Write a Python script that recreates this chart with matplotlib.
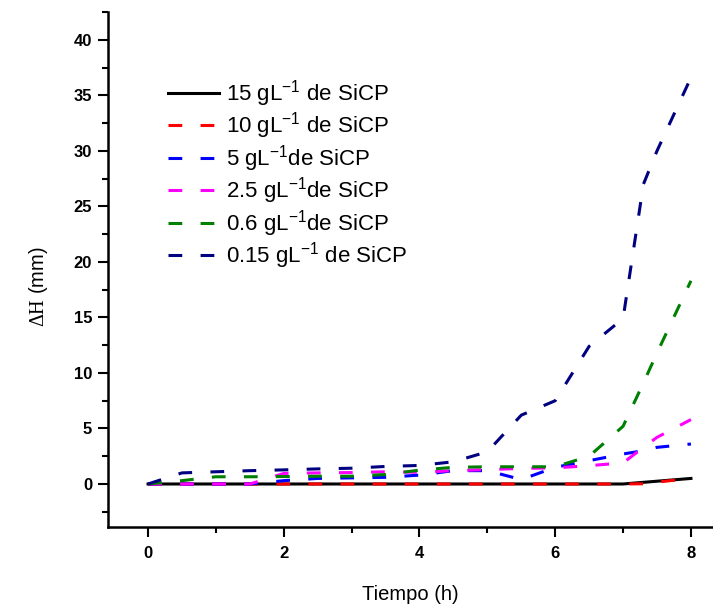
import matplotlib
matplotlib.use("Agg")
import matplotlib.pyplot as plt
from matplotlib.ticker import MultipleLocator

plt.rcParams['font.family'] = ['Liberation Sans', 'DejaVu Sans']
plt.rcParams['mathtext.fontset'] = 'custom'
plt.rcParams['mathtext.rm'] = 'Liberation Serif'
plt.rcParams['mathtext.sf'] = 'Liberation Sans'

# time (h)
tiempo = [0, 0.5, 1, 1.5, 2, 2.5, 3, 3.5, 4, 4.5, 5, 5.5, 6, 6.5, 7, 7.3, 7.5, 8]

# Delta H (mm) for each SiCP concentration
dh_15 = [0, 0, 0, 0, 0, 0, 0, 0, 0, 0, 0, 0, 0, 0, 0, 0.15, 0.25, 0.5]
dh_10 = [0, 0, 0, 0, 0, 0, 0, 0, 0, 0, 0, 0, 0, 0, 0, 0.02, 0.17, 0.5]
dh_5 = [0, 0, 0, 0, 0.3, 0.5, 0.55, 0.6, 0.8, 1.2, 1.2, 0.4, 1.5, 2.1, 2.7, 3.0, 3.3, 3.6]
dh_2_5 = [0, 0, 0, 0, 0.95, 1.0, 1.03, 1.1, 1.05, 1.2, 1.3, 1.4, 1.45, 1.65, 1.9, 3.3, 4.2, 5.8]
dh_0_6 = [0, 0.3, 0.65, 0.65, 0.67, 0.7, 0.7, 0.85, 1.25, 1.5, 1.55, 1.55, 1.55, 2.5, 5.2, 9.1, 11.8, 18.3]
dh_0_15 = [0, 1.0, 1.1, 1.2, 1.27, 1.36, 1.42, 1.58, 1.67, 2.0, 2.9, 6.2, 7.5, 12.4, 14.9, 27.0, 30.0, 36.6]

sup = '$^{\\mathsf{-1}}$'
series = [
    (dh_15, 'black', '15 gL' + sup + ' de SiCP', '-'),
    (dh_10, '#ff0000', '10 gL' + sup + ' de SiCP', '--'),
    (dh_5, '#0000ff', '5 gL' + sup + 'de SiCP', '--'),
    (dh_2_5, '#ff00ff', '2.5 gL' + sup + 'de SiCP', '--'),
    (dh_0_6, '#008000', '0.6 gL' + sup + 'de SiCP', '--'),
    (dh_0_15, '#000080', '0.15 gL' + sup + ' de SiCP', '--'),
]

fig = plt.figure(figsize=(7.13, 6.05), dpi=100)
ax = fig.add_axes([0.1515, 0.129, 0.848, 0.851])

for vals, col, lab, ls in series:
    if ls == '-':
        ax.plot(tiempo, vals, color=col, lw=2.2, label=lab)
    else:
        ax.plot(tiempo, vals, color=col, lw=2.2, dashes=(4.5, 6), label=lab)

ax.set_xlim(-0.59, 8.32)
ax.set_ylim(-3.87, 42.5)
ax.xaxis.set_major_locator(MultipleLocator(2))
ax.xaxis.set_minor_locator(MultipleLocator(1))
ax.yaxis.set_major_locator(MultipleLocator(5))
ax.yaxis.set_minor_locator(MultipleLocator(2.5))

for s in ['top', 'right']:
    ax.spines[s].set_visible(False)
for s in ['left', 'bottom']:
    ax.spines[s].set_linewidth(1.8)

ax.tick_params(which='major', direction='out', length=7, width=1.5, pad=4.5, labelsize=12)
ax.tick_params(axis='x', which='major', pad=7)
ax.tick_params(which='minor', direction='out', length=4, width=1.5)
for lbl in ax.get_xticklabels() + ax.get_yticklabels():
    lbl.set_fontweight('bold')

ax.set_xlabel('Tiempo (h)', fontsize=14.5, labelpad=17)
ax.set_ylabel('$\\mathrm{\\Delta H}$ (mm)', fontsize=14.5)
ax.yaxis.set_label_coords(-0.096, 0.466)

ax.legend(loc='upper left', bbox_to_anchor=(0.085, 0.889), frameon=False,
          fontsize=16, handlelength=2.3, handletextpad=0.3, labelspacing=0.07,
          borderaxespad=0)

fig.savefig('out.png', dpi=100)
